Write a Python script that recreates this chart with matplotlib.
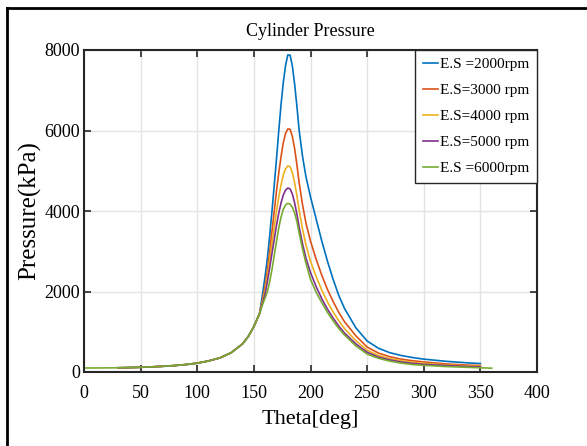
# Cylinder pressure vs crank angle for several engine speeds

import matplotlib
matplotlib.use('Agg')
import matplotlib.pyplot as plt
from matplotlib.lines import Line2D

plt.rcParams['font.family'] = ['Liberation Serif', 'DejaVu Serif']

# compression stroke (all speeds overlap here)
theta_comp = [30, 40, 50, 60, 70, 80, 90, 100, 110, 120, 130, 140, 145, 150, 155]
p_comp = [105, 110, 118, 128, 142, 160, 185, 220, 275, 350, 480, 700, 880, 1130, 1450]

# combustion / expansion part
theta_comb = [158, 160, 162, 164, 166, 168, 170, 172, 174, 176, 178, 180, 182, 184, 186, 188, 190,
              193, 196, 200, 205, 210, 215, 220, 225, 230, 240, 250, 260, 270, 280, 290, 300, 320, 340, 350]

p_2000 = [2000, 2400, 2850, 3400, 4000, 4650, 5300, 6000, 6650, 7200, 7620, 7880, 7870, 7600, 7150, 6600, 6000,
          5350, 4850, 4350, 3800, 3250, 2750, 2300, 1900, 1580, 1100, 770, 590, 480, 410, 360, 320, 265, 225, 210]
p_3000 = [1850, 2150, 2550, 3000, 3500, 4000, 4500, 4950, 5350, 5700, 5930, 6040, 6030, 5850, 5550, 5150, 4700,
          4150, 3700, 3250, 2800, 2400, 2050, 1750, 1480, 1250, 900, 620, 470, 380, 320, 280, 250, 200, 170, 160]
p_4000 = [1800, 2050, 2400, 2800, 3200, 3600, 4000, 4350, 4650, 4900, 5050, 5120, 5100, 4950, 4700, 4380, 4020,
          3550, 3150, 2750, 2370, 2030, 1740, 1490, 1270, 1080, 780, 540, 410, 330, 280, 240, 215, 175, 150, 140]
p_5000 = [1750, 1950, 2250, 2600, 2950, 3300, 3650, 3950, 4200, 4400, 4520, 4570, 4550, 4420, 4200, 3920, 3600,
          3180, 2830, 2470, 2120, 1820, 1560, 1340, 1140, 970, 700, 490, 370, 300, 250, 215, 190, 160, 135, 125]
p_6000 = [1700, 1850, 2000, 2250, 2550, 2900, 3250, 3580, 3850, 4040, 4150, 4190, 4170, 4090, 3950, 3740, 3450,
          3050, 2700, 2300, 1980, 1720, 1480, 1270, 1080, 920, 650, 445, 340, 270, 220, 185, 165, 135, 115, 105]

# the 6000 rpm run covers a slightly longer range
theta_start_6000 = [0, 10, 20]
p_start_6000 = [100, 100, 102]
theta_end_6000 = [360]
p_end_6000 = [95]

labels = ['E.S =2000rpm', 'E.S=3000 rpm', 'E.S=4000 rpm', 'E.S=5000 rpm', 'E.S =6000rpm']
colors = ['#0072BD', '#D95319', '#EDB120', '#7E2F8E', '#77AC30']

fig = plt.figure(figsize=(5.87, 4.46), dpi=100)
ax = fig.add_axes([84 / 587, 1 - 372 / 446, 453 / 587, 322 / 446])

series = [p_2000, p_3000, p_4000, p_5000, p_6000]
for i, p in enumerate(series):
    x = theta_comp + theta_comb
    y = p_comp + p
    if i == 4:
        x = theta_start_6000 + x + theta_end_6000
        y = p_start_6000 + y + p_end_6000
    ax.plot(x, y, color=colors[i], lw=1.2, label=labels[i])

ax.set_xlim(0, 400)
ax.set_ylim(0, 8000)
ax.set_xticks(range(0, 401, 50))
ax.set_yticks(range(0, 8001, 2000))
ax.grid(True, color='#e3e3e3', lw=1)
ax.set_axisbelow(True)
for s in ax.spines.values():
    s.set_color('#262626')
    s.set_linewidth(1.5)
ax.tick_params(direction='in', top=True, right=True, length=5, width=1.2, color='#262626', labelsize=13)
ax.tick_params(axis='x', pad=9)
ax.tick_params(axis='y', pad=3)

ax.set_title('Cylinder Pressure', fontsize=13, pad=10)
ax.set_xlabel('Theta[deg]', fontsize=16, labelpad=6)
ax.set_ylabel('Pressure(kPa)', fontsize=18, labelpad=2)

leg = ax.legend(loc='upper right', fontsize=11, borderaxespad=0, fancybox=False, framealpha=1,
                edgecolor='#262626', handlelength=1.0, handletextpad=0.15, labelspacing=0.8,
                borderpad=0.5)
leg.get_frame().set_linewidth(1.0)

# black frame lines at the left and top of the picture
fig.add_artist(Line2D([7 / 587, 7 / 587], [0, 1 - 8 / 446], color='black', lw=2, transform=fig.transFigure))
fig.add_artist(Line2D([7 / 587, 1], [1 - 8 / 446, 1 - 8 / 446], color='black', lw=2, transform=fig.transFigure))

fig.savefig('out.png', dpi=100)
